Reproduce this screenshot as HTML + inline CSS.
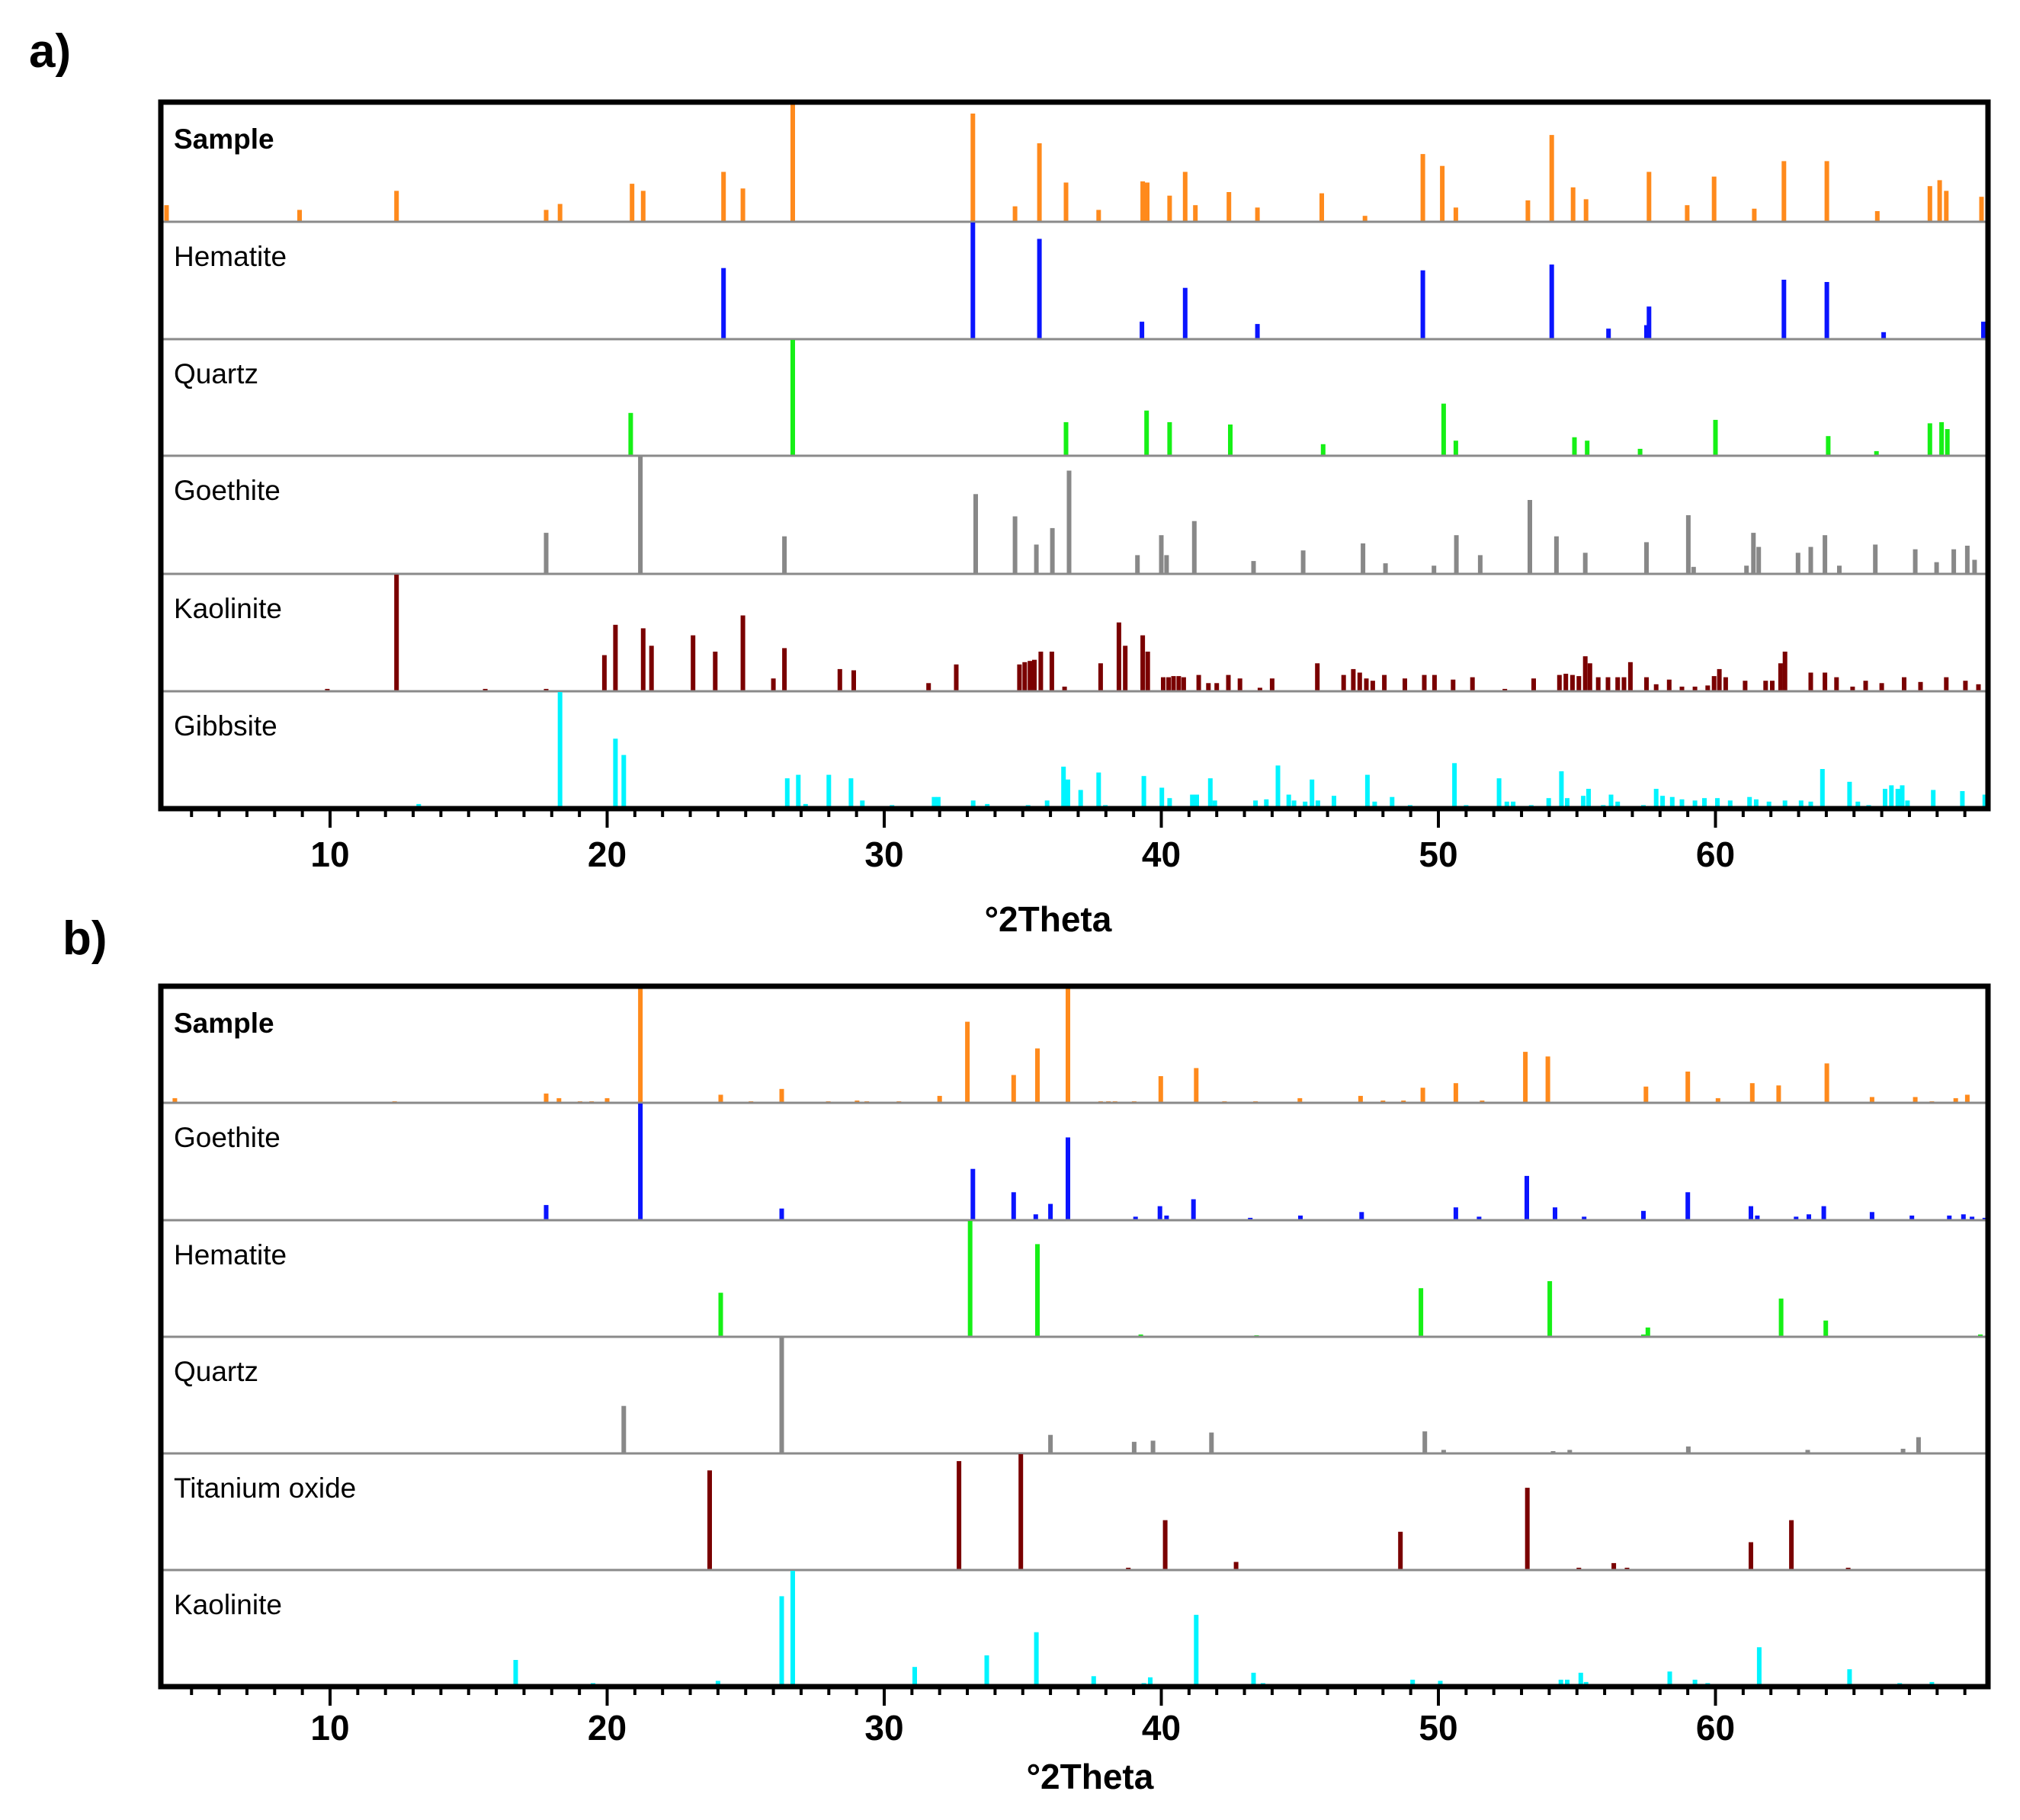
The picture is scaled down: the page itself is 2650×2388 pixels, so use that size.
<!DOCTYPE html>
<html><head><meta charset="utf-8"><style>
html,body{margin:0;padding:0;background:#fff;}
svg{display:block;font-family:"Liberation Sans",Arial,sans-serif;}
</style></head><body>
<svg id="chart" width="2650" height="2388" viewBox="0 0 2650 2388" xmlns="http://www.w3.org/2000/svg">
<rect width="2650" height="2388" fill="#fff"/>
<text x="38" y="88" font-size="62" font-weight="bold">a)</text>
<text x="82" y="1252" font-size="62" font-weight="bold">b)</text>
</svg>
<script>
// ---- data: [2theta (deg), relative intensity] ----
const ticks = [10,20,30,40,50,60];
const tickLabels = ["10","20","30","40","50","60"];
const xTitle = "°2Theta";

const aNames = ["Sample","Hematite","Quartz","Goethite","Kaolinite","Gibbsite"];
const aColors = ["#ff8a1c","#0a14ff","#16f016","#888888","#7a0000","#00f4ff"];
const aSample = [[4.1,.14],[8.9,.10],[12.4,.26],[17.8,.10],[18.3,.15],[20.9,.32],[21.3,.26],[24.2,.42],[24.9,.28],[26.7,1.0],[33.2,.91],[34.72,.13],[35.6,.66],[36.56,.33],[37.74,.10],[39.33,.34],[39.49,.33],[40.3,.22],[40.86,.42],[41.23,.14],[42.44,.25],[43.47,.12],[45.79,.24],[47.35,.05],[49.44,.57],[50.14,.47],[50.63,.12],[53.23,.18],[54.09,.73],[54.86,.29],[55.33,.19],[57.6,.42],[58.98,.14],[59.95,.38],[61.4,.11],[62.47,.51],[64.02,.51],[65.84,.09],[67.74,.30],[68.09,.35],[68.33,.26],[69.6,.21]];
const aHematite = [[24.2,.61],[33.2,1.0],[35.6,.86],[39.3,.15],[40.86,.44],[43.47,.13],[49.44,.59],[54.09,.64],[56.14,.09],[57.51,.12],[57.6,.28],[62.47,.51],[64.02,.49],[66.07,.06],[69.67,.15]];
const aQuartz = [[20.85,.37],[26.7,1.0],[36.56,.29],[39.47,.39],[40.3,.29],[42.49,.27],[45.84,.10],[50.19,.45],[50.63,.13],[54.91,.16],[55.37,.13],[57.28,.06],[60.0,.31],[64.07,.17],[65.81,.04],[67.74,.28],[68.16,.29],[68.37,.23]];
const aGoethite = [[17.8,.35],[21.2,1.0],[26.4,.32],[33.3,.68],[34.72,.49],[35.49,.25],[36.07,.39],[36.67,.88],[39.14,.16],[40.0,.33],[40.19,.16],[41.19,.45],[43.33,.11],[45.12,.20],[47.28,.26],[48.09,.09],[49.84,.07],[50.65,.33],[51.51,.16],[53.3,.63],[54.26,.32],[55.3,.18],[57.51,.27],[59.02,.50],[59.21,.06],[61.12,.07],[61.37,.35],[61.56,.23],[62.98,.18],[63.44,.23],[63.95,.33],[64.47,.07],[65.77,.25],[67.21,.21],[67.98,.10],[68.6,.21],[69.09,.24],[69.35,.12],[69.86,.14]];
const aKaolinite = [[9.9,.02],[12.4,1.0],[15.6,.02],[17.8,.02],[19.9,.31],[20.3,.57],[21.3,.54],[21.6,.39],[23.1,.48],[23.9,.34],[24.9,.65],[26.0,.11],[26.4,.37],[28.4,.19],[28.9,.18],[31.6,.07],[32.6,.23],[34.88,.23],[35.07,.25],[35.26,.26],[35.42,.27],[35.65,.34],[36.05,.34],[36.51,.04],[37.81,.24],[38.47,.59],[38.7,.39],[39.33,.48],[39.51,.34],[40.07,.12],[40.26,.12],[40.44,.13],[40.63,.13],[40.81,.12],[41.35,.14],[41.7,.07],[42.0,.07],[42.42,.14],[42.84,.11],[43.56,.03],[44.0,.11],[45.63,.24],[46.58,.14],[46.93,.19],[47.16,.16],[47.4,.11],[47.63,.09],[48.05,.14],[48.79,.11],[49.49,.14],[49.86,.14],[50.53,.10],[51.23,.12],[52.4,.02],[53.44,.11],[54.37,.14],[54.6,.15],[54.84,.14],[55.07,.13],[55.3,.30],[55.47,.24],[55.77,.12],[56.12,.12],[56.47,.12],[56.7,.12],[56.93,.25],[57.51,.12],[57.86,.06],[58.33,.10],[58.79,.04],[59.26,.04],[59.72,.05],[59.95,.13],[60.14,.19],[60.37,.12],[61.07,.09],[61.81,.09],[62.05,.09],[62.35,.24],[62.51,.34],[63.44,.16],[63.95,.16],[64.37,.12],[64.95,.04],[65.42,.09],[66.0,.07],[66.81,.12],[67.4,.08],[68.33,.12],[69.02,.09],[69.49,.06]];
const aGibbsite = [[13.2,.04],[18.3,1.0],[20.3,.60],[20.6,.46],[26.5,.26],[26.9,.29],[27.16,.04],[28.0,.29],[28.8,.26],[29.21,.07],[30.28,.03],[31.8,.10],[31.95,.10],[33.21,.07],[33.72,.04],[35.19,.03],[35.88,.07],[36.47,.36],[36.63,.25],[37.09,.16],[37.74,.31],[37.98,.03],[39.37,.28],[40.02,.18],[40.3,.09],[41.12,.12],[41.28,.12],[41.77,.26],[41.93,.07],[43.4,.07],[43.79,.08],[44.21,.37],[44.6,.12],[44.79,.07],[45.19,.06],[45.44,.25],[45.65,.07],[46.23,.11],[47.44,.29],[47.7,.06],[48.33,.10],[48.98,.03],[50.58,.39],[51.0,.03],[52.19,.26],[52.47,.06],[52.7,.06],[53.35,.03],[53.98,.09],[54.44,.32],[54.65,.09],[55.23,.11],[55.42,.17],[55.95,.03],[56.23,.12],[56.47,.06],[57.4,.03],[57.86,.17],[58.09,.11],[58.44,.10],[58.79,.08],[59.26,.07],[59.6,.09],[60.07,.09],[60.53,.07],[61.23,.10],[61.47,.08],[61.93,.06],[62.51,.07],[63.09,.07],[63.44,.06],[63.86,.34],[64.84,.23],[65.14,.06],[65.53,.03],[66.12,.17],[66.35,.20],[66.58,.17],[66.74,.20],[66.93,.07],[67.86,.16],[68.91,.15],[69.72,.12]];

const bNames = ["Sample","Goethite","Hematite","Quartz","Titanium oxide","Kaolinite"];
const bColors = ["#ff8a1c","#0a14ff","#16f016","#888888","#7a0000","#00f4ff"];
const bSample = [[4.4,.04],[12.33,.01],[17.8,.08],[18.26,.04],[19.02,.01],[19.44,.01],[20.0,.04],[21.2,1.0],[24.1,.07],[25.19,.01],[26.3,.12],[27.98,.01],[29.02,.02],[29.37,.01],[30.53,.01],[32.0,.06],[33.0,.70],[34.67,.24],[35.53,.47],[36.63,1.0],[37.81,.01],[38.09,.01],[38.33,.01],[39.02,.01],[39.98,.23],[41.26,.30],[42.28,.01],[43.4,.01],[45.0,.04],[47.19,.06],[48.0,.02],[48.74,.02],[49.44,.13],[50.63,.17],[51.58,.02],[53.14,.44],[53.95,.40],[57.49,.14],[59.0,.27],[60.09,.04],[61.33,.17],[62.28,.15],[64.02,.34],[65.65,.05],[67.21,.05],[67.81,.01],[68.67,.04],[69.09,.07]];
const bGoethite = [[17.8,.13],[21.2,1.0],[26.3,.10],[33.2,.44],[34.67,.24],[35.47,.05],[36.0,.14],[36.63,.71],[39.07,.03],[39.95,.12],[40.19,.04],[41.16,.18],[43.21,.02],[45.02,.04],[47.23,.07],[50.63,.11],[51.47,.03],[53.19,.38],[54.21,.11],[55.26,.03],[57.4,.08],[59.0,.24],[61.28,.12],[61.51,.04],[62.91,.03],[63.37,.05],[63.91,.12],[65.65,.07],[67.09,.04],[68.44,.04],[68.95,.05],[69.26,.03],[69.72,.02]];
const bHematite = [[24.1,.38],[33.1,1.0],[35.53,.80],[39.26,.02],[43.44,.01],[49.37,.42],[54.02,.48],[57.4,.02],[57.56,.08],[62.37,.33],[63.98,.14],[69.56,.02]];
const bQuartz = [[20.6,.41],[26.3,1.0],[36.0,.16],[39.02,.10],[39.7,.11],[41.81,.18],[49.51,.19],[50.19,.03],[54.14,.02],[54.74,.03],[59.02,.06],[63.33,.03],[66.77,.04],[67.33,.14]];
const bTitanium = [[23.7,.86],[32.7,.94],[34.93,1.0],[38.81,.02],[40.14,.43],[42.7,.07],[48.63,.33],[53.21,.71],[55.07,.02],[56.33,.06],[56.81,.02],[61.28,.24],[62.74,.43],[64.79,.02]];
const bKaolinite = [[16.7,.23],[19.49,.03],[24.0,.05],[26.3,.78],[26.7,1.0],[30.77,.02],[31.1,.17],[33.7,.27],[35.49,.47],[37.56,.09],[38.21,.02],[39.37,.03],[39.6,.08],[40.88,.02],[41.26,.62],[43.33,.12],[43.67,.03],[46.23,.01],[46.58,.01],[49.07,.06],[50.07,.05],[50.65,.01],[51.7,.01],[54.42,.06],[54.65,.06],[55.14,.12],[55.33,.04],[58.35,.13],[59.26,.06],[59.72,.03],[60.6,.01],[61.58,.34],[64.63,.01],[64.84,.15],[66.65,.03],[67.81,.04]];

const aSeries = [aSample,aHematite,aQuartz,aGoethite,aKaolinite,aGibbsite];
const bSeries = [bSample,bGoethite,bHematite,bQuartz,bTitanium,bKaolinite];

// ---- layout ----
const NS = "http://www.w3.org/2000/svg";
const svg = document.getElementById("chart");
const L = 211, R = 2608;
function xScale(d){ return 433 + (d - 10) * 36.35; }
function mk(tag, attrs, parent){
  const e = document.createElementNS(NS, tag);
  for (const k in attrs) e.setAttribute(k, attrs[k]);
  (parent || svg).appendChild(e);
  return e;
}

function drawPanel(id, rows, names, colors, series, titleX, titleY, labelY){
  const g = mk("g", {});
  
  
  const top = rows[0], bottom = rows[rows.length - 1];
  for (let i = 0; i < names.length; i++){
    const y0 = rows[i], y1 = rows[i + 1];
    const h = y1 - y0 - 1;
    const rg = mk("g", {}, g);
    
    
    for (const p of series[i]){
      const x = xScale(p[0]);
      if (x < L + 4 || x > R - 3) continue;
      const bh = Math.max(2, p[1] * h);
      const b = mk("rect", {x: (x - 3).toFixed(1), y: (y1 - bh).toFixed(1), width: 6, height: bh.toFixed(1), fill: colors[i]}, rg);
      
      
    }
    if (i < names.length - 1){
      const s = mk("line", {x1: L, x2: R, y1: y1, y2: y1, stroke: "#8a8a8a", "stroke-width": 3}, g);
      
      
    }
    const t = mk("text", {x: 228, y: y0 + (i === 0 ? 61 : 58), "font-size": 37, "font-weight": i === 0 ? "bold" : "normal", fill: "#000"}, g);
    t.textContent = names[i];
    
    
  }
  const fr = mk("path", {d: `M${L},${bottom} L${L},${top} L${R},${top} L${R},${bottom} Z`, fill: "none", stroke: "#000", "stroke-width": 7}, g);
  
  
  for (let d = 5; d <= 69; d++){
    const x = xScale(d);
    const major = d % 10 === 0;
    const tk = mk("line", {x1: x, x2: x, y1: bottom, y2: bottom + (major ? 25 : 11), stroke: "#000", "stroke-width": 4}, g);
    
    
  }
  for (let i = 0; i < ticks.length; i++){
    const t = mk("text", {x: xScale(ticks[i]), y: labelY, "font-size": 46, "font-weight": "bold", "text-anchor": "middle"}, g);
    t.textContent = tickLabels[i];
    
    
  }
  const tt = mk("text", {x: titleX, y: titleY, "font-size": 46, "font-weight": "bold", "text-anchor": "middle"}, g);
  tt.textContent = xTitle;
  
  
}

drawPanel("a", [134,291,445,598,753,907,1061], aNames, aColors, aSeries, 1375, 1222, 1137);
drawPanel("b", [1294,1447,1601,1754,1907,2060,2213], bNames, bColors, bSeries, 1430, 2347, 2283);
</script>
</body></html>
